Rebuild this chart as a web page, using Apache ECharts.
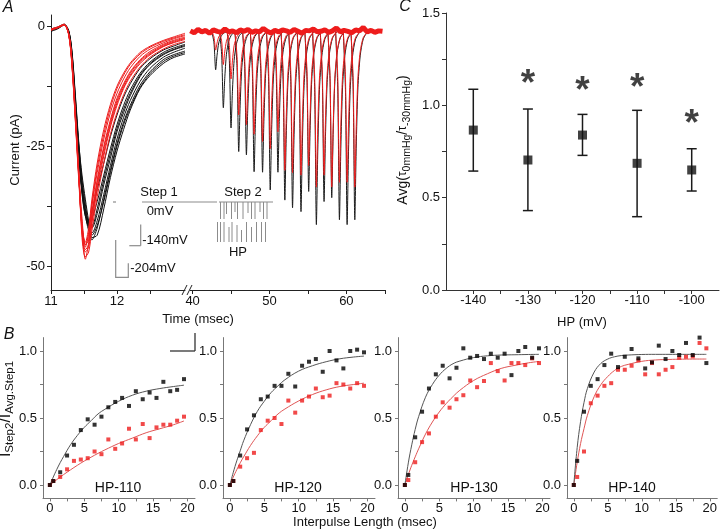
<!DOCTYPE html>
<html><head><meta charset="utf-8">
<script src="https://cdn.jsdelivr.net/npm/echarts@6/dist/echarts.min.js"></script>
<style>html,body{margin:0;padding:0;background:#fff}#c{width:720px;height:530px}</style>
</head><body><div id="c"></div>
<script>
// ================= DATA =================
// Panel A, Step 1 currents (time in ms, current in pA)
const step1Time = [11.0, 11.1, 11.2, 11.27, 11.32, 11.37, 11.42, 11.47, 11.52, 11.57, 11.62, 11.7, 11.8, 11.9, 12.0, 12.1, 12.2, 12.35, 12.5, 12.7, 12.85, 13.03];
const step1Black1 = [-0.8, -0.3, 0.3, -1.5, -7, -17, -27, -35, -39.5, -40.5, -38.5, -34, -28.5, -23, -18.5, -14.8, -12, -8.8, -6.8, -5, -4.2, -3.3];
const step1Black2 = [-1.0, -0.5, 0.2, -1.2, -6, -15.5, -25, -33, -38, -41, -42, -39, -33, -27.5, -22, -18, -14.5, -10.5, -8, -6, -5, -4.2];
const step1Black3 = [-0.6, -0.2, 0.4, -1.0, -5.5, -14.5, -24, -32, -37, -41.5, -44.5, -42, -36, -30, -24.5, -20, -16.5, -12.3, -9.5, -7, -6, -5.2];
const step1Black4 = [-0.9, -0.4, 0.3, -1.4, -6.8, -16.5, -26.5, -34, -39, -42.5, -43, -40.5, -35, -29, -23.5, -19, -15.5, -11.5, -8.8, -6.5, -5.5, -4.6];
const step1Black5 = [-0.7, -0.3, 0.3, -1.6, -7.2, -17.5, -27.5, -34, -39, -41, -40, -36.5, -31, -25.5, -20.5, -16.5, -13.3, -9.8, -7.5, -5.5, -4.6, -3.8];
const step1Black6 = [-1.1, -0.6, 0.2, -1.1, -5.8, -15, -24.5, -31, -36, -40.5, -44, -43.5, -38, -31.5, -26, -21.5, -17.5, -13, -10.3, -7.8, -6.6, -5.8];
const step1Black7 = [-0.9, -0.4, 0.3, -1.3, -6.4, -16, -25.5, -33.5, -38.5, -42, -43.5, -41.5, -36.5, -30.5, -25, -20.5, -17, -12.8, -9.9, -7.4, -6.3, -5.5];
const step1Black8 = [-0.8, -0.3, 0.3, -1.5, -7, -17, -26.5, -34.5, -39.5, -41.5, -41.5, -38, -32, -26.5, -21.3, -17.3, -14, -10.2, -7.8, -5.8, -4.9, -4.0];
const step1Red1 = [-0.6, -0.2, 0.3, -1.8, -8, -19, -31, -42, -48.5, -45, -39, -32, -25, -19.5, -15, -12, -9.5, -7, -5.3, -3.8, -3, -2.3];
const step1Red2 = [-0.8, -0.4, 0.2, -1.9, -8.5, -19.5, -31, -41, -46, -43, -37, -29.5, -22.5, -17, -13, -10.2, -8, -5.8, -4.4, -3.2, -2.5, -1.8];
const step1Red3 = [-0.7, -0.3, 0.3, -1.7, -7.8, -18.5, -30.5, -43, -47, -46, -41, -34, -27, -21, -16.5, -13, -10.5, -7.8, -6, -4.3, -3.5, -2.8];
const step1Red4 = [-0.9, -0.4, 0.2, -2.0, -8.8, -20, -32, -42, -45, -42, -36, -28.5, -21.5, -16.3, -12.5, -9.8, -7.7, -5.5, -4.2, -3, -2.3, -1.5];
const step1Red5 = [-0.6, -0.2, 0.4, -1.6, -7.5, -18, -30, -44, -48, -47, -42.5, -35.5, -28.5, -22.5, -18, -14.3, -11.5, -8.5, -6.5, -4.8, -3.9, -3.2];
const step1Red6 = [-0.8, -0.3, 0.3, -1.8, -8.2, -19, -30, -40, -45.5, -44.5, -39.5, -32.5, -25.5, -20, -15.5, -12.3, -9.8, -7.2, -5.6, -4, -3.2, -2.5];
const step1Red7 = [-0.7, -0.3, 0.3, -1.8, -8, -18.8, -30.8, -42.5, -46.5, -45.5, -40.5, -33.3, -26.3, -20.5, -16, -12.7, -10.2, -7.5, -5.8, -4.2, -3.4, -2.6];
const step1Red8 = [-0.8, -0.3, 0.2, -1.9, -8.6, -19.8, -31.5, -41.5, -45.5, -43.5, -37.5, -30.5, -23.5, -18, -14, -11, -8.7, -6.3, -4.8, -3.5, -2.7, -2.0];

// Panel A, Step 2 currents: peak times (ms) and peak currents (pA)
const step2PeakTime = [43.0, 44.0, 45.0, 46.0, 47.0, 48.0, 49.1, 50.1, 51.1, 52.0, 53.0, 54.1, 55.1, 56.1, 57.1, 58.1, 59.1, 60.1, 61.1];
const step2PeakBlack = [-9.1, -17.0, -21.2, -26.1, -26.8, -30.3, -30.4, -34.1, -30.4, -36.2, -37.8, -38.6, -34.4, -41.3, -36.5, -35.7, -40.3, -41.3, -40.3];
const step2PeakRed = [-5, -8, -11, -18.5, -20.5, -22.5, -24, -25.5, -22, -30, -30.5, -31, -29, -33.5, -31, -33.5, -32.5, -32.5, -33.5];
const step2ShapeDt = [-0.5, -0.22, 0, 0.18, 0.4, 0.7, 1.1, 1.7];      // ms relative to peak
const step2ShapeFrac = [0, 0.3, 1, 0.62, 0.3, 0.13, 0.04, 0];       // fraction of peak
const step2Baseline = -1.1;
const step2Start = 39.7, step2End = 65;
const baselineTime = [39.7, 40.2, 40.7, 41.2, 41.7, 42.2, 42.7, 43.2, 43.7, 44.2, 44.7, 45.2, 45.7, 46.2, 46.7, 47.2, 47.7, 48.2, 48.7, 49.2, 49.7, 50.2, 50.7, 51.2, 51.7, 52.2, 52.7, 53.2, 53.7, 54.2, 54.7, 55.2, 55.7, 56.2, 56.7, 57.2, 57.7, 58.2, 58.7, 59.2, 59.7, 60.2, 60.7, 61.2, 61.7, 62.2, 62.7, 63.2, 63.7, 64.2, 64.7];
const baselineNoise = [-1.0, -1.4, -0.7, -1.2, -0.9, -1.5, -0.8, -1.1, -1.3, -0.6, -1.2, -1.0, -1.4, -0.8, -1.1, -0.7, -1.3, -1.0, -1.2, -0.5, -1.1, -1.4, -0.9, -1.2, -0.8, -1.0, -1.3, -0.7, -1.1, -1.5, -0.9, -1.0, -0.6, -1.2, -1.1, -0.8, -1.3, -1.0, -0.4, -1.2, -0.9, -1.1, -1.4, -0.8, -1.0, -0.3, -1.2, -0.9, -1.3, -1.0, -1.1];

// Panel C
const hpValues = [-140, -130, -120, -110, -100];
const tauRatioMean = [0.866, 0.704, 0.839, 0.686, 0.65];
const tauRatioHigh = [1.087, 0.98, 0.951, 0.973, 0.765];
const tauRatioLow = [0.644, 0.43, 0.729, 0.397, 0.536];
const starHP = [-130, -120, -110, -100];
const starLevel = [1.164, 1.13, 1.146, 0.947];

// Panel B
const hpPanels = ['HP-110', 'HP-120', 'HP-130', 'HP-140'];
const interpulse = [0, 0.5, 1.5, 2.5, 3.5, 4.5, 5.5, 6.5, 7.5, 8.5, 9.5, 10.5, 11.5, 12.5, 13.5, 14.5, 15.5, 16.5, 17.5, 18.5, 19.5];
const hp110Black = [0, 0.03, 0.095, 0.22, 0.30, 0.41, 0.49, 0.45, 0.51, 0.58, 0.62, 0.65, 0.59, 0.70, 0.64, 0.69, 0.65, 0.77, 0.70, 0.71, 0.79];
const hp110Red = [0, 0.03, 0.06, 0.117, 0.18, 0.19, 0.20, 0.25, 0.23, 0.34, 0.27, 0.31, 0.42, 0.34, 0.455, 0.35, 0.43, 0.45, 0.45, 0.48, 0.51];
const hp120Black = [0, 0.03, 0.22, 0.415, 0.52, 0.64, 0.66, 0.74, 0.74, 0.83, 0.735, 0.89, 0.92, 0.94, 0.845, 1.0, 0.93, 0.87, 1.0, 1.01, 0.99];
const hp120Red = [0, 0.03, 0.137, 0.20, 0.24, 0.41, 0.48, 0.50, 0.455, 0.63, 0.54, 0.63, 0.66, 0.72, 0.655, 0.667, 0.76, 0.75, 0.72, 0.76, 0.74];
const hp130Black = [0, 0.075, 0.356, 0.547, 0.72, 0.826, 0.89, 0.796, 0.875, 1.02, 0.95, 0.963, 0.94, 0.98, 0.95, 0.98, 0.82, 1.0, 1.03, 0.95, 1.02];
const hp130Red = [0, 0.037, 0.17, 0.32, 0.385, 0.51, 0.617, 0.577, 0.64, 0.67, 0.78, 0.73, 0.776, 0.91, 0.85, 0.78, 0.91, 0.91, 0.895, 0.945, 0.91];
const hp140Black = [0, 0.18, 0.547, 0.74, 0.79, 0.895, 0.98, 0.88, 0.957, 1.015, 0.945, 0.87, 0.915, 1.04, 0.94, 1.0, 0.97, 1.06, 0.97, 1.1, 0.91];
const hp140Red = [0, 0.06, 0.25, 0.61, 0.667, 0.74, 0.76, 0.86, 0.86, 0.89, 0.93, 0.826, 0.91, 0.826, 0.86, 0.88, 0.95, 0.957, 0.96, 1.06, 1.02];
const fitX = [0, 0.5, 1, 1.5, 2, 3, 4, 5, 6, 7, 8, 10, 12, 14, 16, 18, 19.5];
const hp110FitBlack = [0, 0.06, 0.116, 0.167, 0.213, 0.30, 0.37, 0.43, 0.48, 0.53, 0.565, 0.625, 0.67, 0.70, 0.72, 0.735, 0.745];
const hp110FitRed = [0, 0.02, 0.04, 0.06, 0.078, 0.113, 0.147, 0.179, 0.208, 0.236, 0.262, 0.31, 0.35, 0.39, 0.42, 0.45, 0.478];
const hp120FitBlack = [0, 0.095, 0.18, 0.255, 0.33, 0.45, 0.55, 0.625, 0.69, 0.74, 0.785, 0.85, 0.89, 0.92, 0.942, 0.955, 0.962];
const hp120FitRed = [0, 0.06, 0.114, 0.165, 0.21, 0.295, 0.367, 0.43, 0.48, 0.53, 0.567, 0.627, 0.675, 0.71, 0.735, 0.75, 0.76];
const hp130FitBlack = [0, 0.165, 0.30, 0.415, 0.51, 0.655, 0.75, 0.82, 0.87, 0.905, 0.925, 0.951, 0.964, 0.97, 0.972, 0.974, 0.975];
const hp130FitRed = [0, 0.077, 0.147, 0.21, 0.27, 0.38, 0.47, 0.545, 0.607, 0.66, 0.707, 0.78, 0.83, 0.87, 0.893, 0.912, 0.922];
const hp140FitBlack = [0, 0.28, 0.475, 0.615, 0.72, 0.843, 0.908, 0.94, 0.957, 0.966, 0.97, 0.974, 0.975, 0.975, 0.975, 0.975, 0.975];
const hp140FitRed = [0, 0.17, 0.31, 0.42, 0.52, 0.66, 0.75, 0.81, 0.855, 0.885, 0.9, 0.923, 0.933, 0.937, 0.939, 0.94, 0.94];

// Tick / label values
const aYLabels = [-50, -25, 0], aYTicks = [-50, -37.5, -25, -12.5, 0];
const a1XLabels = [11, 12], a1XTicks = [11, 11.5, 12, 12.5];
const a2XLabels = [40, 50, 60], a2XTicks = [40, 45, 50, 55, 60, 65];
const cXLabels = [-140, -130, -120, -110, -100], cXTicks = [-140, -135, -130, -125, -120, -115, -110, -105, -100];
const cYLabels = [0, 0.5, 1, 1.5], cYTicks = [0, 0.25, 0.5, 0.75, 1, 1.25, 1.5];
const bXLabels = [0, 5, 10, 15, 20], bXTicks = [0, 2.5, 5, 7.5, 10, 12.5, 15, 17.5, 20];
const bYLabels = [0, 0.5, 1], bYTicks = [0, 0.25, 0.5, 0.75, 1];

// ================= BUILD =================
const FONT = '"Liberation Sans", Arial, Helvetica, sans-serif';
const BLACK = '#111', RED = '#ee1c1c';
const zip = (xs, ys) => xs.map((x, i) => [x, ys[i]]);

function axis(o) {
  return {
    type: 'value', gridIndex: o.grid, min: o.min, max: o.max, show: o.show !== false,
    splitLine: { show: false },
    axisLine: { show: true, onZero: false, lineStyle: { color: o.color || '#222', width: 1 } },
    axisTick: { show: true, inside: false, length: o.tickLen || 4, customValues: o.ticks, lineStyle: { color: o.color || '#222' } },
    axisLabel: { show: true, customValues: o.labels, margin: o.margin, color: '#111', fontSize: 13, fontFamily: FONT, formatter: o.fmt || (v => String(v)) }
  };
}
const fmt1 = v => v.toFixed(1);

const bLeft = [43, 223, 398, 567];
const grids = [
  { left: 51, top: 15, width: 134, height: 275 },
  { left: 190.3, top: 15, width: 194.5, height: 275 },
  { left: 446, top: 13, width: 273, height: 277 }
].concat(bLeft.map(l => ({ left: l, top: 337.6, width: 152, height: 160.8 })));

const xAxes = [
  axis({ grid: 0, min: 11, max: 13.03, labels: a1XLabels, ticks: a1XTicks, margin: 5 }),
  axis({ grid: 1, min: step2Start, max: step2End, labels: a2XLabels, ticks: a2XTicks, margin: 5 }),
  axis({ grid: 2, min: -145, max: -95, labels: cXLabels, ticks: cXTicks, margin: 4, color: '#333' })
].concat([3, 4, 5, 6].map(g => axis({ grid: g, min: -1, max: 21.1, labels: bXLabels, ticks: bXTicks, margin: 4, color: '#777', tickLen: 3 })));

const yAxes = [
  axis({ grid: 0, min: -54.9, max: 2.3, labels: aYLabels, ticks: aYTicks, margin: 6 }),
  axis({ grid: 1, min: -54.9, max: 2.3, show: false }),
  axis({ grid: 2, min: 0, max: 1.5, labels: cYLabels, ticks: cYTicks, margin: 6, fmt: fmt1, color: '#333' })
].concat([3, 4, 5, 6].map(g => axis({ grid: g, min: -0.1, max: 1.1, labels: bYLabels, ticks: bYTicks, margin: 6, fmt: fmt1, color: '#777', tickLen: 3 })));

const series = [];
function line(xi, yi, data, color, width, smooth, z) {
  series.push({ type: 'line', xAxisIndex: xi, yAxisIndex: yi, data, symbol: 'none', smooth: smooth,
    lineStyle: { color, width }, z: z || 2, silent: true, animation: false });
}

// Panel A left
[step1Black1, step1Black2, step1Black3, step1Black4, step1Black5, step1Black6, step1Black7, step1Black8]
  .forEach(tr => line(0, 0, zip(step1Time, tr), BLACK, 1, 0.3, 2));
[step1Red1, step1Red2, step1Red3, step1Red4, step1Red5, step1Red6, step1Red7, step1Red8]
  .forEach(tr => line(0, 0, zip(step1Time, tr), RED, 1, 0.3, 3));

// Panel A right
function spike(t, peak) {
  return step2ShapeDt.map((d, k) => [t + d, step2Baseline + step2ShapeFrac[k] * (peak - step2Baseline)]);
}
step2PeakTime.forEach((t, i) => line(1, 1, spike(t, step2PeakBlack[i]), '#1a1a1a', 1, 0.25, 2));
step2PeakTime.forEach((t, i) => line(1, 1, spike(t, step2PeakRed[i]), RED, 1, 0.25, 3));
line(1, 1, zip(baselineTime, baselineNoise), RED, 5, false, 4);

// Panel C
series.push({
  type: 'custom', xAxisIndex: 2, yAxisIndex: 2, silent: true,
  data: hpValues.map((h, i) => [h, tauRatioLow[i], tauRatioHigh[i]]),
  encode: { x: 0, y: [1, 2] },
  renderItem: (params, api) => {
    const lo = api.coord([api.value(0), api.value(1)]);
    const hi = api.coord([api.value(0), api.value(2)]);
    const st = { stroke: '#1a1a1a', lineWidth: 1.5 };
    return { type: 'group', children: [
      { type: 'line', shape: { x1: lo[0], y1: lo[1], x2: hi[0], y2: hi[1] }, style: st },
      { type: 'line', shape: { x1: lo[0] - 5, y1: lo[1], x2: lo[0] + 5, y2: lo[1] }, style: st },
      { type: 'line', shape: { x1: hi[0] - 5, y1: hi[1], x2: hi[0] + 5, y2: hi[1] }, style: st }
    ] };
  }
});
series.push({ type: 'scatter', xAxisIndex: 2, yAxisIndex: 2, symbol: 'rect', symbolSize: 9, silent: true,
  itemStyle: { color: '#111' }, data: zip(hpValues, tauRatioMean), z: 4 });
series.push({ type: 'scatter', xAxisIndex: 2, yAxisIndex: 2, symbolSize: 1, silent: true,
  itemStyle: { color: 'rgba(0,0,0,0)' }, data: zip(starHP, starLevel),
  label: { show: true, position: 'inside', formatter: '*', fontSize: 37, fontWeight: 'bold', color: '#111', fontFamily: FONT, offset: [0, 10] } });

// Panel B
const bBlack = [hp110Black, hp120Black, hp130Black, hp140Black];
const bRed = [hp110Red, hp120Red, hp130Red, hp140Red];
const bFitBlack = [hp110FitBlack, hp120FitBlack, hp130FitBlack, hp140FitBlack];
const bFitRed = [hp110FitRed, hp120FitRed, hp130FitRed, hp140FitRed];
for (let p = 0; p < 4; p++) {
  const ai = 3 + p;
  line(ai, ai, zip(fitX, bFitRed[p]), '#e05555', 1, 0.4, 2);
  line(ai, ai, zip(fitX, bFitBlack[p]), '#555', 1, 0.4, 2);
  series.push({ type: 'scatter', xAxisIndex: ai, yAxisIndex: ai, symbol: 'rect', symbolSize: 4, silent: true,
    itemStyle: { color: RED }, data: zip(interpulse, bRed[p]), z: 3 });
  series.push({ type: 'scatter', xAxisIndex: ai, yAxisIndex: ai, symbol: 'rect', symbolSize: 4, silent: true,
    itemStyle: { color: '#000' }, data: zip(interpulse, bBlack[p]), z: 4 });
}

// ================= GRAPHICS (labels, annotations) =================
const txt = (x, y, text, size, extra) => Object.assign({ type: 'text', x, y, silent: true,
  style: Object.assign({ text, fontSize: size || 13, fontFamily: FONT, fill: '#111', align: 'center', verticalAlign: 'middle' }, (extra && extra.style) || {}) },
  extra && extra.rotation ? { rotation: extra.rotation } : {});
const seg = (x1, y1, x2, y2, color, w) => ({ type: 'line', silent: true, shape: { x1, y1, x2, y2 }, style: { stroke: color || '#888', lineWidth: w || 1.2 } });
const G = '#8c8c8c';
const els = [
  txt(8, 8, 'A', 16, { style: { fontStyle: 'italic' } }),
  txt(9, 335, 'B', 16, { style: { fontStyle: 'italic' } }),
  txt(405, 7, 'C', 16, { style: { fontStyle: 'italic' } }),
  txt(15, 150, 'Current (pA)', 13, { rotation: Math.PI / 2 }),
  txt(198, 319, 'Time (msec)', 13),
  seg(182, 295, 187, 285, '#222', 1), seg(187, 295, 192, 285, '#222', 1),
  // stimulus protocol inset
  txt(159, 192, 'Step 1', 13), txt(243, 192, 'Step 2', 13), txt(160, 211, '0mV', 13),
  txt(165, 240, '-140mV', 13), txt(153, 268, '-204mV', 13), txt(238, 252, 'HP', 13),
  seg(113, 202, 116, 202, G), seg(142, 202, 217, 202, G), seg(219, 202, 273, 202, G),
  seg(140.7, 224.5, 140.7, 245.7, G), seg(129.3, 245.7, 140.7, 245.7, G),
  { type: 'polyline', silent: true, shape: { points: [[115.7, 240], [115.7, 277.3], [128.3, 277.3], [128.3, 263.3]] }, style: { stroke: G, lineWidth: 1.2, fill: null } },
  // panel C
  txt(582, 322, 'HP (mV)', 13),
  txt(403, 140, '{m|Avg(}{t|τ}{s|0mmHg}{m|/}{t|τ}{s|-30mmHg}{m|)}', 14, { rotation: Math.PI / 2, style: { rich: {
    m: { fontSize: 14, fontFamily: FONT, fill: '#111', lineHeight: 18 },
    t: { fontSize: 12, fontFamily: FONT, fill: '#111', lineHeight: 18 },
    s: { fontSize: 10.5, fontFamily: FONT, fill: '#111', lineHeight: 11, padding: [8, 0, 0, 0] } } } }),
  // panel B
  txt(6, 409, '{m|I}{s|Step2}{m|/I}{s|Avg.Step1}', 15, { rotation: Math.PI / 2, style: { rich: {
    m: { fontSize: 16, fontFamily: FONT, fill: '#111', lineHeight: 19 },
    s: { fontSize: 11.5, fontFamily: FONT, fill: '#111', lineHeight: 12, padding: [7, 0, 0, 0] } } } }),
  seg(170, 351, 195, 351, '#333', 1.3), seg(195, 333, 195, 351, '#333', 1.3),
  txt(365, 522, 'Interpulse Length (msec)', 13)
];
const hpLabelX = [118, 298, 474, 632];
hpPanels.forEach((t, i) => els.push(txt(hpLabelX[i], 488, t, 14)));
const upperBarX = [220.5, 224, 226.5, 231.5, 235, 237.5, 243, 248, 251.5, 255, 260, 263.5, 267];
const upperBarEnd = [219, 219, 214, 219, 212, 219, 219, 213, 219, 219, 212, 219, 219];
upperBarX.forEach((x, i) => els.push(seg(x, 202, x, upperBarEnd[i], G, 1)));
const lowerBarX = [217.5, 220.5, 224, 229, 232, 237, 241.5, 246.5, 251.5, 256.5, 261.5, 265.5];
const lowerBarTop = [222, 222, 222, 227, 222, 225, 230, 222, 227, 222, 222, 222];
lowerBarX.forEach((x, i) => els.push(seg(x, lowerBarTop[i], x, 242, G, 1)));

const chart = echarts.init(document.getElementById('c'), null, { renderer: 'canvas' });
chart.setOption({
  animation: false,
  backgroundColor: '#fff',
  textStyle: { fontFamily: FONT },
  grid: grids, xAxis: xAxes, yAxis: yAxes, series,
  graphic: { elements: els }
});
</script></body></html>
